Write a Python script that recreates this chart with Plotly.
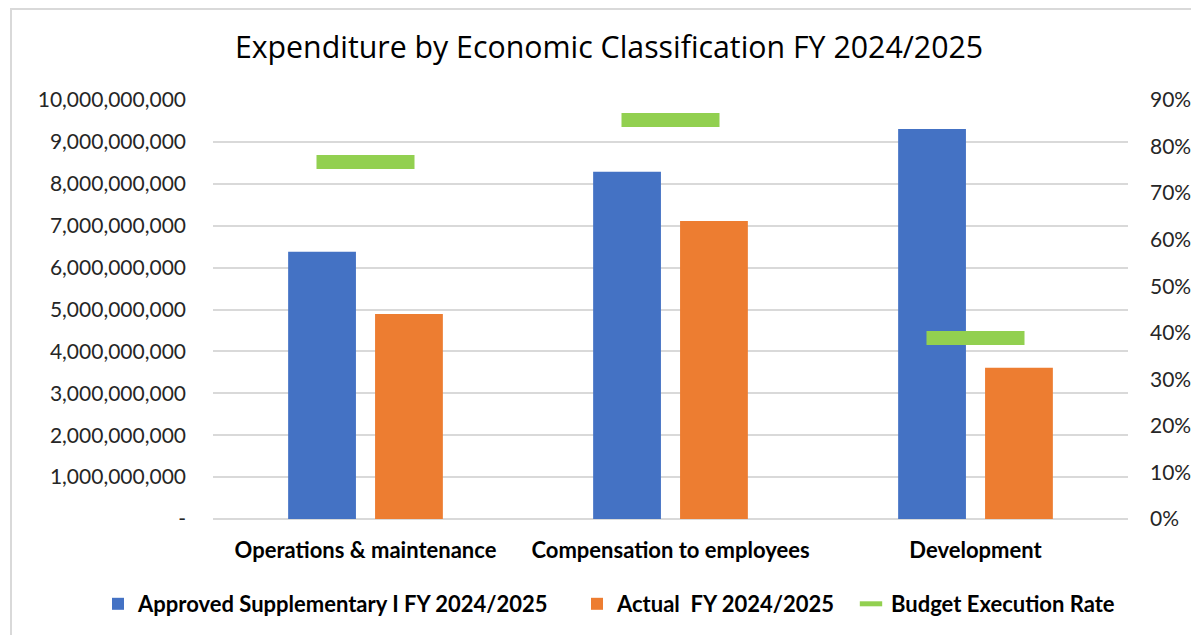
import plotly.graph_objects as go

categories = ["Operations & maintenance", "Compensation to employees", "Development"]
approved = [6.38e9, 8.29e9, 9.31e9]
actual = [4.89e9, 7.11e9, 3.61e9]
execution_rate = [0.767, 0.857, 0.389]

left_tickvals = [i * 1e9 for i in range(11)]
left_ticktext = ["-", "1,000,000,000", "2,000,000,000", "3,000,000,000", "4,000,000,000",
                 "5,000,000,000", "6,000,000,000", "7,000,000,000", "8,000,000,000",
                 "9,000,000,000", "10,000,000,000"]
right_tickvals = [i / 10 for i in range(10)]
right_ticktext = ["0%", "10%", "20%", "30%", "40%", "50%", "60%", "70%", "80%", "90%"]

FONT = "Lato"
OFF = 8  # page offset
L, R, T, B = 213 - OFF, 1128 - OFF, 100 - OFF, 519 - OFF
W, H = 1199, 635
PW, PH = R - L, B - T

fig = go.Figure()
fig.add_trace(go.Bar(x=categories, y=approved, name="Approved Supplementary I FY 2024/2025",
                     marker=dict(color="#4472C4", line=dict(width=0)), legend="legend"))
fig.add_trace(go.Bar(x=categories, y=actual, name="Actual  FY 2024/2025",
                     marker=dict(color="#ED7D31", line=dict(width=0)), legend="legend2"))
fig.add_trace(go.Scatter(x=categories, y=execution_rate, name="Budget Execution Rate", yaxis="y2",
                         mode="markers", legend="legend3",
                         marker=dict(symbol="line-ew", size=70, color="#92D050",
                                     line=dict(color="#92D050", width=14))))

leg_y = (B - (604 - OFF)) / PH
leg_font = dict(family=FONT, size=22, color="black", weight="bold")


def legend_at(text_x):
    return dict(orientation="h", xref="paper", x=(text_x - 48 - L) / PW, xanchor="left",
                y=leg_y, yanchor="middle", font=leg_font, bgcolor="rgba(0,0,0,0)")


fig.update_layout(
    width=W, height=H,
    margin=dict(l=L, r=W - R, t=T, b=H - B, autoexpand=False),
    paper_bgcolor="white", plot_bgcolor="white",
    barmode="group", bargap=0.43, bargroupgap=0.22,
    title=dict(text="Expenditure by Economic Classification FY 2024/2025",
               x=(609 - OFF) / W, xanchor="center", y=1 - (47 - OFF) / H, yanchor="middle",
               font=dict(family="Open Sans", size=30.3, color="black")),
    xaxis=dict(showgrid=False, showline=False, ticks="", ticklabelstandoff=16,
               tickfont=dict(family=FONT, size=22, color="black", weight="bold")),
    yaxis=dict(range=[0, 1e10], tickvals=left_tickvals, ticktext=left_ticktext,
               showgrid=True, gridcolor="#D9D9D9", gridwidth=1.5,
               zeroline=True, zerolinecolor="#D9D9D9", zerolinewidth=1.5,
               ticklabelstandoff=26,
               tickfont=dict(family=FONT, size=21, color="#262626")),
    yaxis2=dict(range=[0, 0.9], tickvals=right_tickvals, ticktext=right_ticktext,
                overlaying="y", side="right", showgrid=False, zeroline=False,
                ticklabelstandoff=21,
                tickfont=dict(family=FONT, size=21, color="#262626")),
    legend=legend_at(138),
    legend2=legend_at(617),
    legend3=legend_at(891),
    showlegend=True,
)

fig.add_shape(type="rect", xref="paper", yref="paper",
              x0=(11 - OFF - L) / PW, x1=(1215 - L) / PW,
              y0=(B - 660) / PH, y1=(B - (9 - OFF)) / PH,
              line=dict(color="#D9D9D9", width=2), fillcolor="rgba(0,0,0,0)", layer="below")

fig.write_html("out.html")
